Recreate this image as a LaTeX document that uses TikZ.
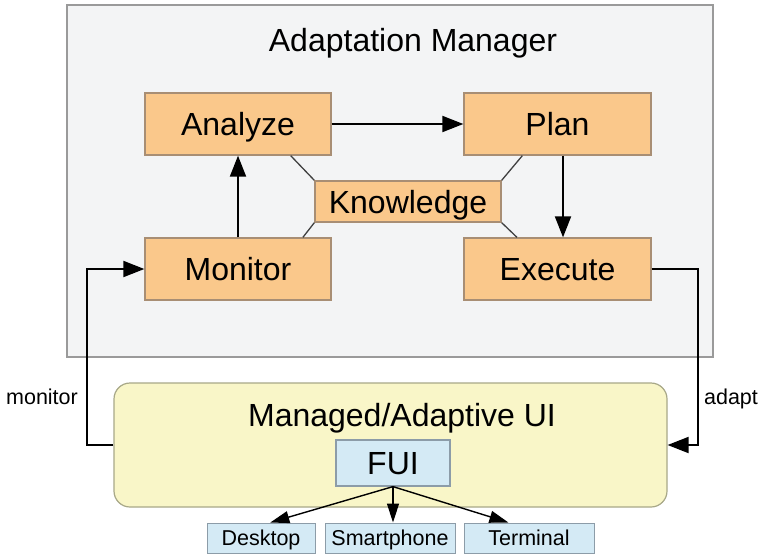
\documentclass[tikz,border=0pt]{standalone}
\usepackage{fontspec}
\setmainfont{Liberation Sans}
\usetikzlibrary{arrows.meta}
\definecolor{mgrfill}{HTML}{F3F4F5}
\definecolor{mgrline}{HTML}{9A9A9A}
\definecolor{orfill}{HTML}{FAC88B}
\definecolor{orline}{HTML}{A88E74}
\definecolor{uifill}{HTML}{F9F6C8}
\definecolor{uiline}{HTML}{A8A888}
\definecolor{bluefill}{HTML}{D4EAF5}
\definecolor{blueline}{HTML}{8C9CA8}
\tikzset{
  big/.style={font=\fontsize{32}{36}\selectfont, text height=23pt, text depth=0pt},
  small/.style={font=\fontsize{21.5}{24}\selectfont, text height=15.5pt, text depth=0pt},
  phase/.style={draw=orline, fill=orfill, line width=1.3pt, inner sep=0pt,
    minimum width=186pt, minimum height=62pt, big},
  device/.style={draw=blueline, fill=bluefill, line width=1pt, inner sep=0pt,
    minimum height=30pt, small},
  arr/.style={line width=1.9pt, -{Triangle[length=21pt,width=16pt]}},
  sarr/.style={line width=1.4pt, -{Triangle[length=19pt,width=12pt]}},
  klink/.style={line width=1.3pt, draw=black!75},
}
\begin{document}
\begin{tikzpicture}[x=1pt, y=-1pt]
\useasboundingbox (0,0) rectangle (762,557);
\fill[white] (0,0) rectangle (762,557);

% adaptation manager container
\node[draw=mgrline, fill=mgrfill, line width=1.3pt, minimum width=646pt,
  minimum height=352pt, inner sep=0pt] (mgr) at (390,181) {};
\node[big] (mgrtitle) at (413,40) {Adaptation Manager};

% MAPE-K loop
\node[phase] (ana) at (238,124) {Analyze};
\node[phase, minimum width=187pt] (plan) at (557.5,124) {Plan};
\node[phase] (mon) at (238,269) {Monitor};
\node[phase, minimum width=187pt] (exe) at (557.5,269) {Execute};
\node[phase, minimum width=186pt, minimum height=41pt] (know) at (408,201.5) {Knowledge};

\draw[klink] (ana.-31.3) -- (know.north west);
\draw[klink] (mon.26.6) -- (know.south west);
\draw[klink] (plan.-138.9) -- (know.north east);
\draw[klink] (exe.142.6) -- (know.south east);

\draw[arr] (ana.east) -- (plan.west);
\draw[arr] (mon.north) -- (ana.south);
\draw[arr] ([xshift=5.5pt]plan.south) -- ([xshift=5.5pt]exe.north);

% managed UI
\node[draw=uiline, fill=uifill, line width=1.2pt, rounded corners=16pt,
  minimum width=553pt, minimum height=124pt, inner sep=0pt] (ui) at (390.5,445) {};
\node[big] (uititle) at (402,415) {Managed/Adaptive UI};
\node[draw=blueline, fill=bluefill, line width=1.2pt, inner sep=0pt,
  minimum width=114pt, minimum height=46pt, big] (fui) at (393,463) {FUI};

\node[device, minimum width=108pt] (desk) at (261,538) {Desktop};
\node[device, minimum width=130pt] (phone) at (390,538) {Smartphone};
\node[device, minimum width=130pt] (term) at (529,538) {Terminal};

\draw[sarr] (fui.south) -- (desk.59);
\draw[sarr] (fui.south) -- (phone.north -| fui.south);
\draw[sarr] (fui.south) -- (term.143);

% feedback connectors
\draw[arr] (ui.west) -- ++(-26,0) |- (mon.west);
\draw[arr] (exe.east) -- ++(46,0) |- (ui.east);
\node[small] (lmon) at (42,397) {monitor};
\node[small] (ladapt) at (731,397) {adapt};
\end{tikzpicture}
\end{document}
